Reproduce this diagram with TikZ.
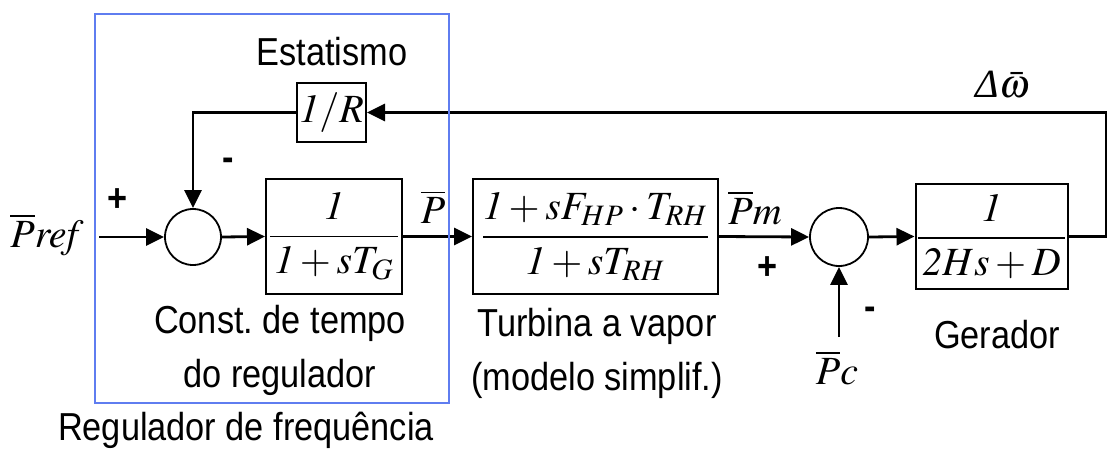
\documentclass[tikz,border=0pt]{standalone}
\usepackage{amsmath}
\usepackage{mathptmx}
\usepackage[no-math]{fontspec}
\setmainfont[FakeStretch=0.88]{Liberation Sans}
\newfontfamily\tmsfont{Liberation Serif}
\usetikzlibrary{arrows.meta}
\frenchspacing

\definecolor{frameblue}{RGB}{95,125,240}

\tikzset{
  blk/.style={draw, line width=1pt, inner sep=0pt},
  sumj/.style={draw, circle, line width=0.9pt, minimum size=28pt, inner sep=0pt},
  sig/.style={line width=1.4pt, -{Triangle[length=9pt,width=8.5pt]}},
  lbl/.style={font=\fontsize{19.5}{27}\selectfont},
  mlbl/.style={font=\fontsize{20}{24}\selectfont},
  sgn/.style={font=\fontsize{19.5}{24}\selectfont\bfseries},
}

\begin{document}
\begin{tikzpicture}[x=0.5pt, y=-0.5pt]
	\useasboundingbox (0,0) rectangle (1109,450);
	% blocks
	\node[blk, mlbl, minimum width=68pt, minimum height=57.5pt] (gov) at (334,236.5) {$\dfrac{\,\mathit{1}\,}{\,\mathit{1}+sT_G\,}$};
	\node[blk, mlbl, minimum width=122.5pt, minimum height=57.5pt] (tur) at (595.5,236.5) {$\dfrac{\mathit{1}+sF_{HP}\cdot T_{RH}}{\mathit{1}+sT_{RH}}$};
	\node[blk, mlbl, minimum width=75.5pt, minimum height=52.5pt] (gen) at (991.5,236.5) {$\dfrac{\,\mathit{1}\,}{\,\mathit{2}Hs+D\,}$};
	\node[blk, mlbl, minimum width=34.5pt, minimum height=29.5pt] (droop) at (331.5,112.5) {$\mathit{1}/R$};
	\node[sumj] (s1) at (193,237) {};
	\node[sumj, minimum size=29pt] (s2) at (839,237) {};
	% free ends
	\coordinate (in) at (99,237);
	\coordinate (pc) at (839,337);
	\coordinate (fb) at (1106,236.5);
	% signals
	\draw[sig] (in) -- (s1.west);
	\draw[sig] (s1.east) -- (gov.west);
	\draw[sig] (gov.east) -- (tur.west);
	\draw[sig] (tur.east) -- (s2.west);
	\draw[sig] (s2.east) -- (gen.west);
	\draw[sig] (pc) -- (s2.south);
	\draw[sig] (gen.east) -- (fb) |- (droop.east);
	\draw[sig] (droop.west) -| (s1.north);
	% signal names and signs
	\node[mlbl] (pref) at (47,235) {$\overline{P}\mathit{ref}$};
	\node[mlbl] (p) at (433,207) {$\overline{P}$};
	\node[mlbl] (pm) at (755,208) {$\overline{P}\mathit{m}$};
	\node[mlbl] (pcl) at (837,368) {$\overline{P}\mathit{c}$};
	\node[mlbl] (dw) at (1003,85) {$\text{\tmsfont\itshape Δ}\bar{\omega}$};
	\node[sgn] (plus1) at (118,200) {+};
	\node[sgn] (minus1) at (228,164) {-};
	\node[sgn] (plus2) at (768,268) {+};
	\node[sgn] (minus2) at (870,313) {-};
	% block names
	\node[lbl] (estat) at (332,52) {Estatismo};
	\node[lbl, align=center] (govtxt) at (280,350) {Const. de tempo\\do regulador};
	\node[lbl, align=center] (turtxt) at (597,353.5) {Turbina a vapor\\(modelo simplif.)};
	\node[lbl] (gentxt) at (997,335) {Gerador};
	\node[lbl] (regtxt) at (246,430) {Regulador de frequência};
	% frequency regulator frame
	\draw[frameblue, line width=1pt] (95,14) rectangle (449,403);
\end{tikzpicture}
\end{document}
